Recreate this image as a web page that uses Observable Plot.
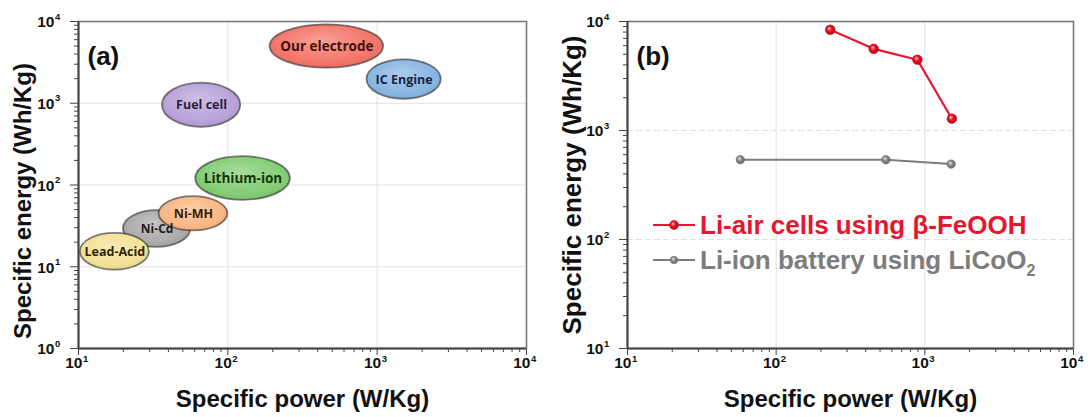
<!DOCTYPE html>
<html><head><meta charset="utf-8">
<script src="https://cdn.jsdelivr.net/npm/d3@7"></script>
<script src="https://cdn.jsdelivr.net/npm/@observablehq/plot@0.6"></script>
<style>
body{margin:0;background:#fff;}
#wrap{position:relative;width:1088px;height:417px;overflow:hidden;}
#wrap > svg{position:absolute;top:0;}
</style></head><body>
<svg width="0" height="0" style="position:absolute"><defs id="defs"></defs></svg>
<div id="wrap"></div>
<script>
// ---------- data (a): Ragone plot ranges ----------
const techNames = ["Lithium-ion", "Ni-Cd", "Ni-MH", "Lead-Acid", "Fuel cell", "Our electrode", "IC Engine"];
const powerMin  = [61, 20, 34.6, 10.3, 36.5, 192, 855];
const powerMax  = [262, 56.5, 100, 29.8, 122, 1104, 2685];
const energyMin = [65, 17.3, 27.4, 9.1, 508, 2685, 1120];
const energyMax = [222, 48.5, 72, 25.6, 1760, 9100, 3400];

// ---------- data (b) ----------
const liAirPower  = [231, 453, 891, 1520];
const liAirEnergy = [8400, 5610, 4460, 1283];
const liIonPower  = [57.4, 547, 1503];
const liIonEnergy = [540, 539, 492];

const xTicks = [10, 100, 1000, 10000];
const yTicksA = [1, 10, 100, 1000, 10000];
const yTicksB = [10, 100, 1000, 10000];
const xLabel = "Specific power (W/Kg)";
const yLabel = "Specific energy (Wh/Kg)";
const legendLabels = ["Li-air cells using β-FeOOH", "Li-ion battery using LiCoO"];

// ---------- styles ----------
const techColor = {
  "Lithium-ion": "#84cd74", "Ni-Cd": "#ababab", "Ni-MH": "#fbb784", "Lead-Acid": "#f2e196",
  "Fuel cell": "#b8a3da", "Our electrode": "#f4766a", "IC Engine": "#88b6e2"
};
const techText = {
  "Lithium-ion": "#17360f", "Ni-Cd": "#1e1e1e", "Ni-MH": "#35200c", "Lead-Acid": "#30240c",
  "Fuel cell": "#2b1f40", "Our electrode": "#3f100c", "IC Engine": "#17233f"
};
const techFontSize = {
  "Lithium-ion": 13.5, "Ni-Cd": 12, "Ni-MH": 12.5, "Lead-Acid": 12.5,
  "Fuel cell": 12.5, "Our electrode": 13.5, "IC Engine": 12.5
};
const redColor = "#e5162f", grayColor = "#7d7d7d";
const font = "'Liberation Sans', Arial, sans-serif";

// gradients
const defs = d3.select("#defs");
techNames.forEach((n, i) => {
  const base = techColor[n];
  const g = defs.append("radialGradient").attr("id", "ga" + i)
    .attr("cx", "50%").attr("cy", "45%").attr("r", "60%").attr("fx", "45%").attr("fy", "35%");
  g.append("stop").attr("offset", "0%").attr("stop-color", d3.interpolateRgb(base, "#fff")(0.3));
  g.append("stop").attr("offset", "75%").attr("stop-color", base);
  g.append("stop").attr("offset", "100%").attr("stop-color", d3.color(base).darker(0.25).formatHex());
});
function dotGrad(id, light, mid, dark) {
  const g = defs.append("radialGradient").attr("id", id)
    .attr("cx", "50%").attr("cy", "50%").attr("r", "55%").attr("fx", "35%").attr("fy", "32%");
  g.append("stop").attr("offset", "0%").attr("stop-color", light);
  g.append("stop").attr("offset", "45%").attr("stop-color", mid);
  g.append("stop").attr("offset", "100%").attr("stop-color", dark);
}
dotGrad("dotRed", "#ffd0d0", "#ee1522", "#a80010");
dotGrad("dotGray", "#eeeeee", "#8e8e8e", "#5e5e5e");

const expo = d => String(Math.round(Math.log10(d)));
function minor(lo, hi) {
  const out = [];
  for (let p = lo; p < hi; p *= 10) for (let k = 2; k <= 9; k++) out.push(p * k);
  return out;
}

const tech = techNames.map((name, i) => ({name, p0: powerMin[i], p1: powerMax[i], e0: energyMin[i], e1: energyMax[i]}));
const gridColor = "#e2e2e2";

function axesMarks(yTicks, yLo) {
  const lab = {fontSize: 15.5, fontWeight: "bold", fill: "#111"};
  const supStyle = {fontSize: 9.5, fontWeight: "bold", fill: "#111"};
  return [
    Plot.axisX({ticks: xTicks, tickFormat: () => "", tickSize: 7, label: null, stroke: "#444"}),
    Plot.axisX({ticks: minor(10, 10000), tickFormat: () => "", tickSize: 4, label: null, stroke: "#444"}),
    Plot.axisY({ticks: yTicks, tickFormat: () => "", tickSize: 8, label: null, stroke: "#444"}),
    Plot.axisY({ticks: minor(yLo, 10000), tickFormat: () => "", tickSize: 4, label: null, stroke: "#444"}),
    // tick labels: "10" with superscript exponent
    Plot.text(xTicks, {x: d => d, frameAnchor: "bottom", textAnchor: "end", dx: 4, dy: 19, text: () => "10", ...lab}),
    Plot.text(xTicks, {x: d => d, frameAnchor: "bottom", textAnchor: "start", dx: 4.5, dy: 13, text: expo, ...supStyle}),
    Plot.text(yTicks, {y: d => d, frameAnchor: "left", textAnchor: "end", dx: -24, dy: 1, text: () => "10", ...lab}),
    Plot.text(yTicks, {y: d => d, frameAnchor: "left", textAnchor: "start", dx: -23.5, dy: -5, text: expo, ...supStyle}),
    Plot.frame({stroke: "#7a7a7a", strokeWidth: 1.6}),
    Plot.ruleX([10], {stroke: "#444", strokeWidth: 2}),
    Plot.ruleY([yLo], {stroke: "#444", strokeWidth: 2})
  ];
}

const baseStyle = {fontFamily: font, fontWeight: "bold", background: "transparent", color: "#1a1a1a", overflow: "visible"};

// ---------- panel (a) ----------
const plotA = Plot.plot({
  width: 544, height: 417,
  marginLeft: 78, marginRight: 18, marginTop: 21, marginBottom: 69,
  x: {type: "log", domain: [10, 10000]},
  y: {type: "log", domain: [1, 10000]},
  style: baseStyle,
  marks: [
    Plot.ruleX([100, 1000], {stroke: gridColor}),
    Plot.ruleY([10, 100, 1000], {stroke: gridColor}),
    Plot.rect(tech, {
      x1: "p0", x2: "p1", y1: "e0", y2: "e1", rx: 999, ry: 999,
      fill: d => `url(#ga${techNames.indexOf(d.name)})`,
      stroke: "#2a2a2a", strokeOpacity: 0.6, strokeWidth: 1.8
    }),
    Plot.text(tech, {
      x: d => Math.sqrt(d.p0 * d.p1), y: d => Math.sqrt(d.e0 * d.e1), text: "name",
      fontFamily: "'Open Sans', sans-serif", fontWeight: 700,
      fontSize: d => techFontSize[d.name],
      fill: d => techText[d.name]
    }),
    ...axesMarks(yTicksA, 1),
    Plot.text(["(a)"], {text: d => d, frameAnchor: "top-left", textAnchor: "start", dx: 9, dy: 25, fontSize: 26, fill: "#111"}),
    Plot.text([xLabel], {text: d => d, frameAnchor: "bottom", textAnchor: "middle", dy: 58, fontSize: 24, fill: "#111"}),
    Plot.text([yLabel], {text: d => d, frameAnchor: "left", textAnchor: "middle", rotate: -90, dx: -55, dy: 16, fontSize: 24, fill: "#111"})
  ]
});

// ---------- panel (b) ----------
const liAir = liAirPower.map((p, i) => ({p, e: liAirEnergy[i]}));
const liIon = liIonPower.map((p, i) => ({p, e: liIonEnergy[i]}));

function legendMark(index, scales, values, dims) {
  const g = d3.create("svg:g").attr("text-anchor", "start");
  const items = [
    {label: legendLabels[0], color: redColor, grad: "url(#dotRed)", r: 4.5, y: 225, sub: null},
    {label: legendLabels[1], color: grayColor, grad: "url(#dotGray)", r: 3.8, y: 260, sub: "2"}
  ];
  const x0 = 109, x1 = 151;
  for (const it of items) {
    g.append("line").attr("x1", x0).attr("x2", x1).attr("y1", it.y).attr("y2", it.y)
      .attr("stroke", it.color).attr("stroke-width", 2.2);
    g.append("circle").attr("cx", (x0 + x1) / 2).attr("cy", it.y).attr("r", it.r)
      .attr("fill", it.grad).attr("stroke", it.color).attr("stroke-width", 0.6);
    const t = g.append("text").attr("x", x1 + 5).attr("y", it.y + 8.5)
      .attr("text-anchor", "start")
      .attr("fill", it.color).attr("font-size", 26).attr("font-weight", "bold")
      .attr("font-family", font).text(it.label);
    if (it.sub) t.append("tspan").attr("dy", 7).attr("font-size", 16).text(it.sub);
  }
  return g.node();
}

const plotB = Plot.plot({
  width: 544, height: 417,
  marginLeft: 83, marginRight: 15, marginTop: 21, marginBottom: 69,
  x: {type: "log", domain: [10, 10000]},
  y: {type: "log", domain: [10, 10000]},
  style: baseStyle,
  marks: [
    Plot.ruleX([100, 1000], {stroke: gridColor}),
    Plot.ruleY([100, 1000], {stroke: gridColor, strokeDasharray: "6,3"}),
    Plot.line(liIon, {x: "p", y: "e", stroke: grayColor, strokeWidth: 2}),
    Plot.dot(liIon, {x: "p", y: "e", r: 4.2, fill: "url(#dotGray)", stroke: "#6a6a6a", strokeWidth: 0.6}),
    Plot.line(liAir, {x: "p", y: "e", stroke: redColor, strokeWidth: 2.2}),
    Plot.dot(liAir, {x: "p", y: "e", r: 4.8, fill: "url(#dotRed)", stroke: "#c00014", strokeWidth: 0.6}),
    legendMark,
    ...axesMarks(yTicksB, 10),
    Plot.text(["(b)"], {text: d => d, frameAnchor: "top-left", textAnchor: "start", dx: 9, dy: 25, fontSize: 26, fill: "#111"}),
    Plot.text([xLabel], {text: d => d, frameAnchor: "bottom", textAnchor: "middle", dy: 58, fontSize: 24, fill: "#111"}),
    Plot.text([yLabel], {text: d => d, frameAnchor: "left", textAnchor: "middle", rotate: -90, dx: -55, dy: 0, fontSize: 26, fill: "#111"})
  ]
});

const wrap = document.getElementById("wrap");
plotA.style.left = "0px";
plotB.style.left = "544px";
wrap.append(plotA, plotB);
</script>
</body></html>
